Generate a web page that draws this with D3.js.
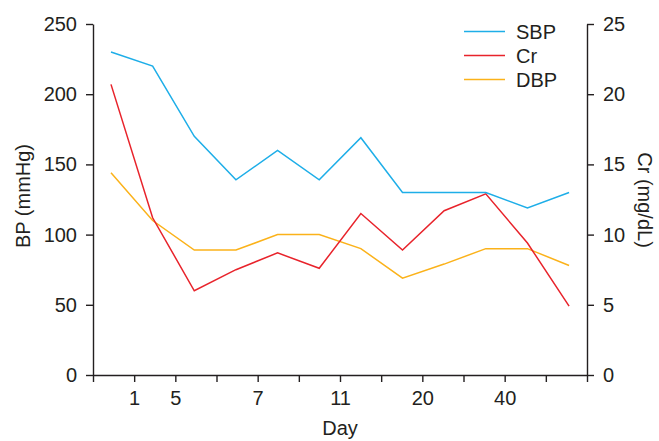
<!DOCTYPE html>
<html><head><meta charset="utf-8">
<script src="https://cdn.jsdelivr.net/npm/d3@7"></script>
<style>body{margin:0;background:#fff}svg{display:block}text{font-family:"Liberation Sans",Arial,sans-serif;fill:#231f20}</style>
</head><body><svg id="c" width="659" height="441"></svg>
<script>
const tickLabels = ["", "1", "5", "", "7", "", "11", "", "20", "", "40", "", ""];
const pointIndex = [0,1,2,3,4,5,6,7,8,9,10,11];
const sbp = [230, 220, 170, 139, 160, 139, 169, 130, 130, 130, 119, 130];
const dbp = [144, 110, 89, 89, 100, 100, 90, 69, 79, 90, 90, 78];
const cr  = [20.7, 11.2, 6.0, 7.5, 8.7, 7.6, 11.5, 8.9, 11.7, 12.9, 9.4, 4.9];
const bpTicks = [0, 50, 100, 150, 200, 250];
const crTicks = [0, 5, 10, 15, 20, 25];

const svg = d3.select("#c");
const L = 93, R = 587, T = 24, B = 375;
const axisScale = d3.scaleLinear().domain([0, 12]).range([L, R]);
const x = d3.scaleLinear().domain([-0.432, 11.43]).range([L, R]);
const yBP = d3.scaleLinear().domain([0, 250]).range([B, T]);
const yCr = d3.scaleLinear().domain([0, 25]).range([B, T]);
const fs = 20;
const axisColor = "#231f20";

function style(g){
  g.select(".domain").attr("stroke", axisColor).attr("stroke-width", 1.4);
  g.selectAll(".tick line").attr("stroke", axisColor).attr("stroke-width", 1.4);
  g.selectAll(".tick text").attr("font-size", fs).attr("fill", axisColor);
}

// x axis
const gx = svg.append("g").attr("transform", `translate(0,${B})`)
  .call(d3.axisBottom(axisScale).tickValues(d3.range(13)).tickSize(7).tickSizeOuter(0)
    .tickPadding(9).tickFormat(i => tickLabels[i]));
style(gx);
// left axis
const gl = svg.append("g").attr("transform", `translate(${L},0)`)
  .call(d3.axisLeft(yBP).tickValues(bpTicks).tickSize(7).tickSizeOuter(0).tickPadding(9));
style(gl);
// right axis
const gr = svg.append("g").attr("transform", `translate(${R},0)`)
  .call(d3.axisRight(yCr).tickValues(crTicks).tickSize(7).tickSizeOuter(0).tickPadding(9));
style(gr);

// lines
const lineBP = arr => d3.line().x((d,i) => x(pointIndex[i])).y(d => yBP(d))(arr);
const lineCr = arr => d3.line().x((d,i) => x(pointIndex[i])).y(d => yCr(d))(arr);
const cSBP = "#1eaee8", cCr = "#e8232b", cDBP = "#fbb21a";
svg.append("path").attr("d", lineBP(dbp)).attr("fill","none").attr("stroke", cDBP).attr("stroke-width",1.5);
svg.append("path").attr("d", lineCr(cr)).attr("fill","none").attr("stroke", cCr).attr("stroke-width",1.5);
svg.append("path").attr("d", lineBP(sbp)).attr("fill","none").attr("stroke", cSBP).attr("stroke-width",1.5);

// axis titles
svg.append("text").attr("x", 340).attr("y", 435).attr("text-anchor","middle").attr("font-size", fs).text("Day");
svg.append("text").attr("transform", "translate(30,196) rotate(-90)").attr("text-anchor","middle").attr("font-size", fs).text("BP (mmHg)");
svg.append("text").attr("transform", "translate(638,200) rotate(90)").attr("text-anchor","middle").attr("font-size", fs).text("Cr (mg/dL)");

// legend
const legend = [["SBP", cSBP], ["Cr", cCr], ["DBP", cDBP]];
legend.forEach((d, i) => {
  const yy = 31.5 + i * 24;
  svg.append("line").attr("x1", 464).attr("x2", 505).attr("y1", yy).attr("y2", yy).attr("stroke", d[1]).attr("stroke-width", 1.5);
  svg.append("text").attr("x", 516).attr("y", yy + 7).attr("font-size", fs).text(d[0]);
});
</script></body></html>
